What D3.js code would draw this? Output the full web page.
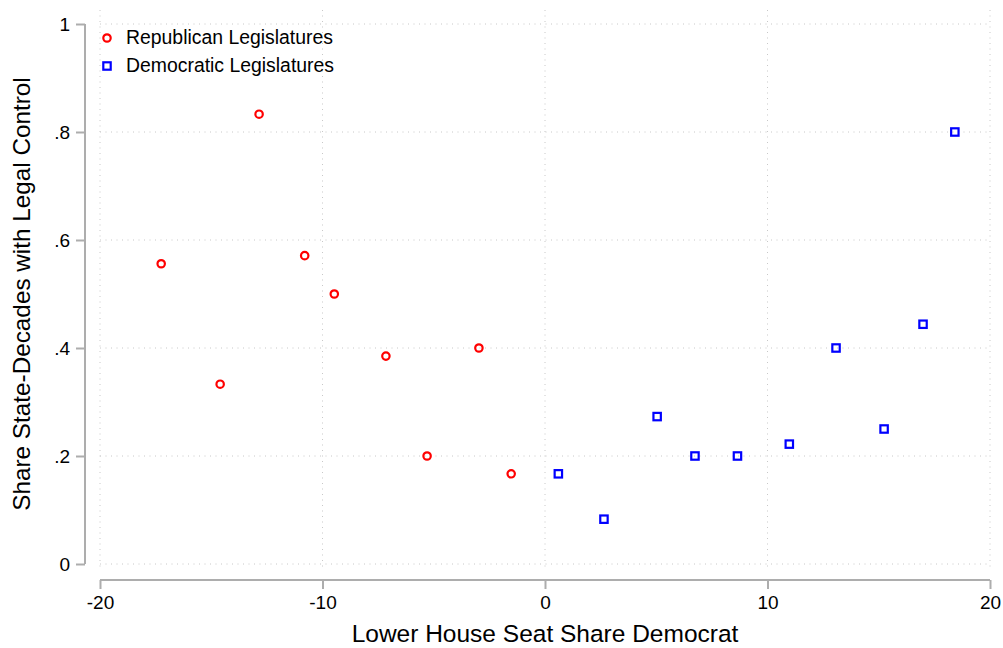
<!DOCTYPE html>
<html>
<head>
<meta charset="utf-8">
<script src="https://cdn.jsdelivr.net/npm/d3@7/dist/d3.min.js"></script>
<style>
  html, body { margin: 0; padding: 0; background: #fff; }
  svg { display: block; font-family: "Liberation Sans", Arial, sans-serif; }
</style>
</head>
<body>
<svg id="chart" width="1003" height="648"></svg>
<script>
// Lower-house Democratic seat share (margin, pct points) vs share of state-decades with legal control
const repX = [-17.25, -14.6, -12.85, -10.8, -9.47, -7.15, -5.3, -2.97, -1.52];
const repY = [0.556, 0.333, 0.833, 0.571, 0.5, 0.385, 0.2, 0.4, 0.167];
const demX = [0.6, 2.65, 5.04, 6.74, 8.65, 10.98, 13.08, 15.24, 16.99, 18.42];
const demY = [0.167, 0.083, 0.273, 0.2, 0.2, 0.222, 0.4, 0.25, 0.444, 0.8];

const xTicks = [-20, -10, 0, 10, 20];
const xTickLabels = ["-20", "-10", "0", "10", "20"];
const yTicks = [0, 0.2, 0.4, 0.6, 0.8, 1];
const yTickLabels = ["0", ".2", ".4", ".6", ".8", "1"];
const seriesNames = ["Republican Legislatures", "Democratic Legislatures"];

const svg = d3.select("#chart");
const axisColor = "#adadad";
const gridColor = "#c8c8c8";

const x = d3.scaleLinear().domain([-20, 20]).range([100, 990]);
const y = d3.scaleLinear().domain([0, 1]).range([564, 24]);

// grid lines
const grid = svg.append("g");
grid.selectAll("line.h").data(yTicks).join("line")
  .attr("x1", 100).attr("x2", 990)
  .attr("y1", d => y(d)).attr("y2", d => y(d))
  .attr("stroke", gridColor).attr("stroke-width", 1)
  .attr("stroke-dasharray", "1,4.5");
grid.selectAll("line.v").data(xTicks).join("line")
  .attr("x1", d => x(d)).attr("x2", d => x(d))
  .attr("y1", 10).attr("y2", 570)
  .attr("stroke", gridColor).attr("stroke-width", 1)
  .attr("stroke-dasharray", "1,4.5");

// y axis
const yAxis = d3.axisLeft(y).tickValues(yTicks)
  .tickFormat((d, i) => yTickLabels[i]).tickSize(9).tickPadding(6);
const gy = svg.append("g").attr("transform", "translate(85,0)").call(yAxis);
gy.select(".domain").attr("d", `M0,${y(0)}V${y(1)}`);

// x axis
const xAxis = d3.axisBottom(x).tickValues(xTicks)
  .tickFormat((d, i) => xTickLabels[i]).tickSize(9).tickPadding(7);
const gx = svg.append("g").attr("transform", "translate(0,580)").call(xAxis);
gx.select(".domain").attr("d", `M${x(-20)},0H${x(20)}`);

[gx, gy].forEach(g => {
  g.select(".domain").attr("stroke", axisColor).attr("stroke-width", 2);
  g.selectAll(".tick line").attr("stroke", axisColor).attr("stroke-width", 2);
  g.selectAll(".tick text").attr("fill", "#000")
    .style("font-size", "19px").style("font-family", '"Liberation Sans", Arial, sans-serif');
});

// axis titles
svg.append("text")
  .attr("x", x(0)).attr("y", 642)
  .attr("text-anchor", "middle")
  .style("font-size", "24.5px").attr("fill", "#000")
  .text("Lower House Seat Share Democrat");
svg.append("text")
  .attr("transform", `translate(30,${y(0.5)}) rotate(-90)`)
  .attr("text-anchor", "middle")
  .style("font-size", "24.3px").attr("fill", "#000")
  .text("Share State-Decades with Legal Control");

// Republican-held legislatures: hollow red circles
const rep = repX.map((v, i) => ({ x: v, y: repY[i] }));
svg.append("g").selectAll("circle").data(rep).join("circle")
  .attr("cx", d => x(d.x)).attr("cy", d => y(d.y)).attr("r", 3.7)
  .attr("fill", "none").attr("stroke", "#ff0000").attr("stroke-width", 2.2);

// Democratic-held legislatures: hollow blue squares
const dem = demX.map((v, i) => ({ x: v, y: demY[i] }));
const sq = 7.4;
svg.append("g").selectAll("rect").data(dem).join("rect")
  .attr("x", d => x(d.x) - sq / 2).attr("y", d => y(d.y) - sq / 2)
  .attr("width", sq).attr("height", sq)
  .attr("fill", "none").attr("stroke", "#0000ff").attr("stroke-width", 2.2);

// legend
const leg = svg.append("g");
leg.append("circle").attr("cx", 107).attr("cy", 38).attr("r", 3.7)
  .attr("fill", "none").attr("stroke", "#ff0000").attr("stroke-width", 2.2);
leg.append("rect").attr("x", 107 - sq / 2).attr("y", 66 - sq / 2)
  .attr("width", sq).attr("height", sq)
  .attr("fill", "none").attr("stroke", "#0000ff").attr("stroke-width", 2.2);
leg.selectAll("text").data(seriesNames).join("text")
  .attr("x", 126).attr("y", (d, i) => 43.5 + i * 28.5)
  .style("font-size", "19.4px").attr("fill", "#000")
  .text(d => d);
</script>
</body>
</html>
